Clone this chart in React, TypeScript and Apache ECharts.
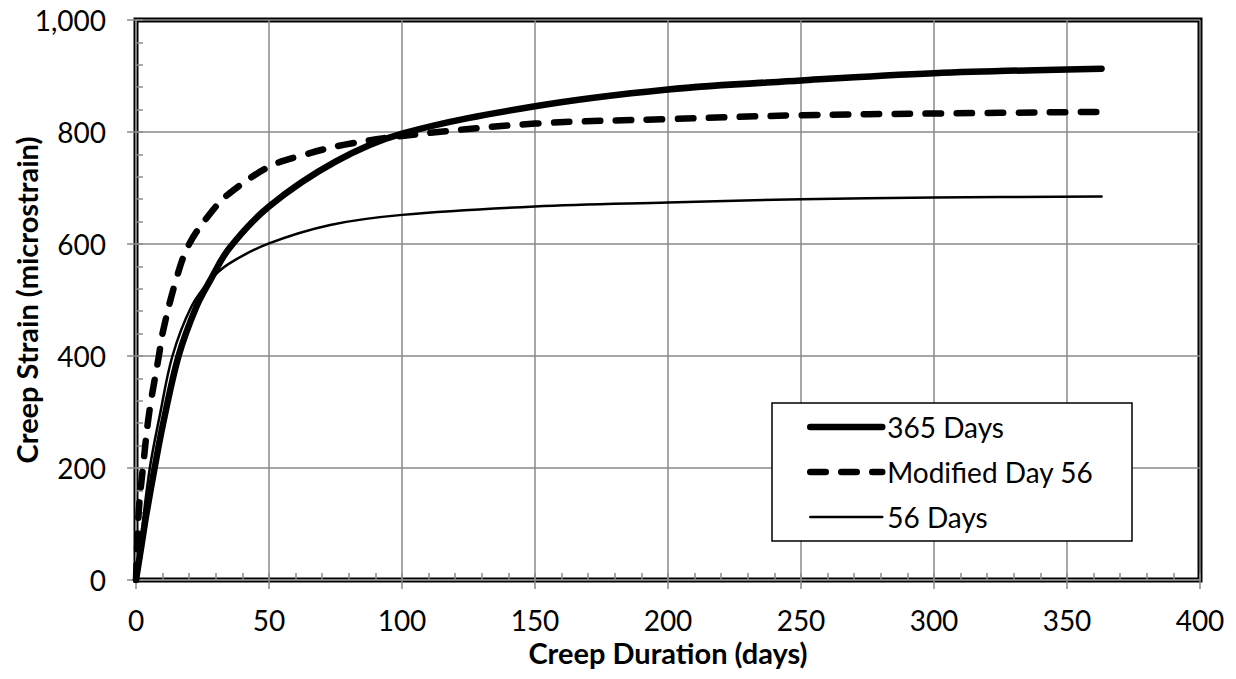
import React, { useEffect, useRef } from "react";
import * as echarts from "echarts";

// ---- Data ----
const DAYS_365 = [0, 2, 4, 7, 10, 16, 22.7, 28, 35, 50, 75, 100, 150, 200, 250, 300, 363];
const STRAIN_365 = [0, 60, 120, 200, 275, 400, 488, 536, 592, 667, 747, 797, 846, 876, 892, 905, 913];

const DAYS_MOD56 = [0, 1, 2.6, 5, 8.6, 10, 15, 20, 29, 35, 50, 63, 78, 100, 150, 200, 250, 300, 363];
const STRAIN_MOD56 = [0, 120, 200, 300, 400, 441, 535, 600, 661, 690, 738, 759, 777, 793, 815, 823, 830, 833, 836];

const DAYS_56 = [0, 2, 5.2, 9, 13.7, 20.8, 28, 35, 50, 73, 100, 150, 200, 250, 300, 363];
const STRAIN_56 = [0, 80, 200, 295, 400, 488, 536, 565, 601, 634, 652, 667, 674, 680, 683, 685];

const SERIES_NAMES = ["365 Days", "Modified Day 56", "56 Days"];
const X_TITLE = "Creep Duration (days)";
const Y_TITLE = "Creep Strain (microstrain)";

const pairs = (xs: number[], ys: number[]) => xs.map((x, i) => [x, ys[i]]);

const FONT = "Lato";
const GRID_GREY = "#8a8a8a";

const LINE_STYLES: any[] = [
  { color: "#000", width: 6.5, type: "solid", cap: "round", join: "round" },
  { color: "#000", width: 6.5, type: [15.5, 15.5], cap: "round", join: "round" },
  { color: "#000", width: 2.5, type: "solid", cap: "round", join: "round" },
];

export default function App() {
  const ref = useRef<HTMLDivElement>(null);

  useEffect(() => {
    if (!ref.current) return;
    const chart = echarts.init(ref.current, undefined, { renderer: "svg" });

    const baseX = { type: "value", min: 0, max: 400, interval: 50 };
    const baseY = { type: "value", min: 0, max: 1000, interval: 200 };

    const seriesData = [
      pairs(DAYS_365, STRAIN_365),
      pairs(DAYS_MOD56, STRAIN_MOD56),
      pairs(DAYS_56, STRAIN_56),
    ];

    chart.setOption({
      animation: false,
      backgroundColor: "#ffffff",
      textStyle: { fontFamily: FONT, color: "#000" },
      grid: {
        left: 136,
        top: 20,
        right: 36,
        bottom: 99,
        outerBoundsMode: "none",
        containLabel: false,
        show: true,
        borderColor: "#000",
        borderWidth: 5,
        backgroundColor: "transparent",
      },
      xAxis: [
        {
          ...baseX,
          position: "bottom",
          name: X_TITLE,
          nameLocation: "middle",
          nameGap: 58,
          nameMoveOverlap: false,
          nameTextStyle: { fontFamily: FONT, fontWeight: "bold", fontSize: 29, color: "#000" },
          axisLine: { show: true, lineStyle: { color: GRID_GREY, width: 1.5 } },
          axisTick: { show: true, inside: false, length: 9, lineStyle: { color: GRID_GREY, width: 1.5 } },
          axisLabel: { fontFamily: FONT, fontSize: 28, color: "#000", margin: 26 },
          splitLine: { show: true, lineStyle: { color: GRID_GREY, width: 1.5 } },
        },
        {
          ...baseX,
          position: "bottom",
          axisLine: { show: false },
          axisLabel: { show: false },
          axisTick: { show: true, inside: true, length: 7, lineStyle: { color: GRID_GREY, width: 1.5 } },
          minorTick: { show: true, splitNumber: 5, length: 7, lineStyle: { color: GRID_GREY, width: 1.5 } },
          splitLine: { show: false },
        },
      ],
      yAxis: [
        {
          ...baseY,
          position: "left",
          name: Y_TITLE,
          nameLocation: "middle",
          nameGap: 95,
          nameRotate: 90,
          nameMoveOverlap: false,
          nameTextStyle: { fontFamily: FONT, fontWeight: "bold", fontSize: 29, color: "#000" },
          axisLine: { show: true, lineStyle: { color: GRID_GREY, width: 1.5 } },
          axisTick: { show: true, inside: false, length: 9, lineStyle: { color: GRID_GREY, width: 1.5 } },
          axisLabel: {
            fontFamily: FONT,
            fontSize: 28,
            color: "#000",
            margin: 30,
            formatter: (v: number) => v.toLocaleString("en-US"),
          },
          splitLine: { show: true, lineStyle: { color: GRID_GREY, width: 1.5 } },
        },
        {
          ...baseY,
          position: "left",
          axisLine: { show: false },
          axisLabel: { show: false },
          axisTick: { show: true, inside: true, length: 7, lineStyle: { color: GRID_GREY, width: 1.5 } },
          minorTick: { show: true, splitNumber: 5, length: 7, lineStyle: { color: GRID_GREY, width: 1.5 } },
          splitLine: { show: false },
        },
      ],
      legend: {
        show: true,
        orient: "vertical",
        left: 807,
        top: 413,
        padding: 0,
        itemWidth: 72,
        itemHeight: 28,
        itemGap: 17,
        z: 10,
        itemStyle: { opacity: 0, borderWidth: 0 },
        textStyle: { fontFamily: FONT, fontSize: 28, color: "#000", lineHeight: 28 },
        data: SERIES_NAMES.map((name, i) => ({
          name,
          itemStyle: { opacity: 0, borderWidth: 0 },
          lineStyle: { ...LINE_STYLES[i], opacity: 1 },
        })),
      },
      graphic: [
        {
          type: "rect",
          z: 5,
          shape: { x: 772, y: 403, width: 360, height: 138 },
          style: { fill: "#fff", stroke: "#000", lineWidth: 1.5 },
        },
      ],
      series: SERIES_NAMES.map((name, i) => ({
        name,
        type: "line",
        xAxisIndex: 0,
        yAxisIndex: 0,
        data: seriesData[i],
        smooth: 0.35,
        symbol: "none",
        showSymbol: false,
        lineStyle: LINE_STYLES[i],
        itemStyle: { color: "#000" },
      })),
    });

    return () => chart.dispose();
  }, []);

  return (
    <div
      ref={ref}
      style={{ position: "fixed", left: 0, top: 0, width: 1236, height: 679, background: "#fff" }}
    />
  );
}
